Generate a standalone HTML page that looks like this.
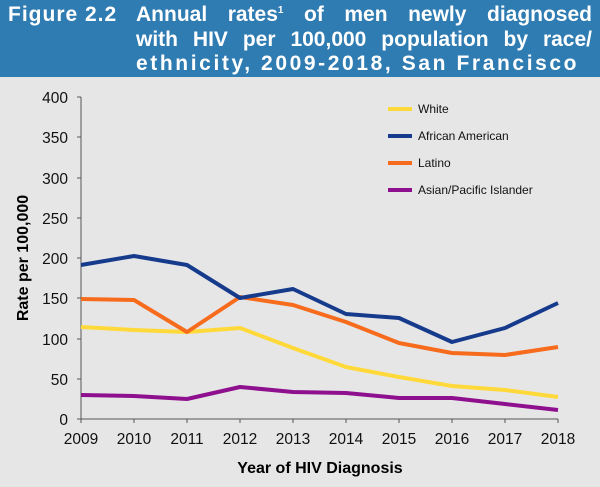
<!DOCTYPE html>
<html><head><meta charset="utf-8"><style>
body{margin:0;width:600px;height:487px;background:#e6e6e6;overflow:hidden;font-family:"Liberation Sans",sans-serif}
.hd{position:absolute;left:0;top:0;width:600px;height:77px;background:#2f7cb2}
.hd div{position:absolute;color:#fff;font-weight:bold;font-size:21px;line-height:24px;font-family:"Liberation Sans",sans-serif;white-space:nowrap}
.j{text-align:justify;text-align-last:justify;width:456px;left:136px}
</style></head><body>
<div class="hd">
<div style="left:8px;top:3px;letter-spacing:1px">Figure 2.2</div>
<div class="j" style="top:3px">Annual rates<sup style="font-size:10px;line-height:0">1</sup> of men newly diagnosed</div>
<div class="j" style="top:28px">with HIV per 100,000 population by race/</div>
<div style="left:136px;top:52px;letter-spacing:2.6px">ethnicity, 2009-2018, San Francisco</div>
</div>
<svg width="600" height="487" style="position:absolute;left:0;top:0" font-family="Liberation Sans, sans-serif">
<g stroke="#555" stroke-width="1" fill="none">
<line x1="81" y1="97" x2="81" y2="419"/>
<line x1="81" y1="419" x2="558" y2="419"/>
<path d="M77 97h4M77 137h4M77 178h4M77 218h4M77 258h4M77 298h4M77 339h4M77 379h4M77 419h4"/>
<path d="M81 419v4M134 419v4M187 419v4M240 419v4M293 419v4M346 419v4M399 419v4M452 419v4M505 419v4M558 419v4"/>
</g>
<g font-size="15.5" fill="#111" text-anchor="end">
<text x="68" y="103">400</text><text x="68" y="143">350</text><text x="68" y="184">300</text><text x="68" y="224">250</text><text x="68" y="264">200</text><text x="68" y="304">150</text><text x="68" y="345">100</text><text x="68" y="385">50</text><text x="68" y="425">0</text>
</g>
<g font-size="15.5" fill="#111" text-anchor="middle">
<text x="81" y="444">2009</text><text x="134" y="444">2010</text><text x="187" y="444">2011</text><text x="240" y="444">2012</text><text x="293" y="444">2013</text><text x="346" y="444">2014</text><text x="399" y="444">2015</text><text x="452" y="444">2016</text><text x="505" y="444">2017</text><text x="558" y="444">2018</text>
</g>
<text x="320" y="473" font-size="16" font-weight="bold" text-anchor="middle">Year of HIV Diagnosis</text>
<text transform="translate(28,258) rotate(-90)" font-size="16" font-weight="bold" text-anchor="middle">Rate per 100,000</text>
<g fill="none" stroke-width="4" stroke-linejoin="round">
<polyline stroke="#ffd93a" points="81,327 134,330 187,332 240,328 293,348 346,367 399,377 452,386 505,390 558,397"/>
<polyline stroke="#f76b1c" points="81,299 134,300 187,332 240,297 293,305 346,322 399,343 452,353 505,355 558,347"/>
<polyline stroke="#163b8c" points="81,265 134,256 187,265 240,298 293,289 346,314 399,318 452,342 505,328 558,303"/>
<polyline stroke="#8e108e" points="81,395 134,396 187,399 240,387 293,392 346,393 399,398 452,398 505,404 558,410"/>
</g>
<g stroke-width="4">
<line x1="388" y1="109" x2="412" y2="109" stroke="#ffd93a"/>
<line x1="388" y1="136" x2="412" y2="136" stroke="#163b8c"/>
<line x1="388" y1="163" x2="412" y2="163" stroke="#f76b1c"/>
<line x1="388" y1="190" x2="412" y2="190" stroke="#8e108e"/>
</g>
<g font-size="12" fill="#111">
<text x="418" y="113">White</text><text x="418" y="140">African American</text><text x="418" y="167">Latino</text><text x="418" y="194">Asian/Pacific Islander</text>
</g>
</svg>
</body></html>
